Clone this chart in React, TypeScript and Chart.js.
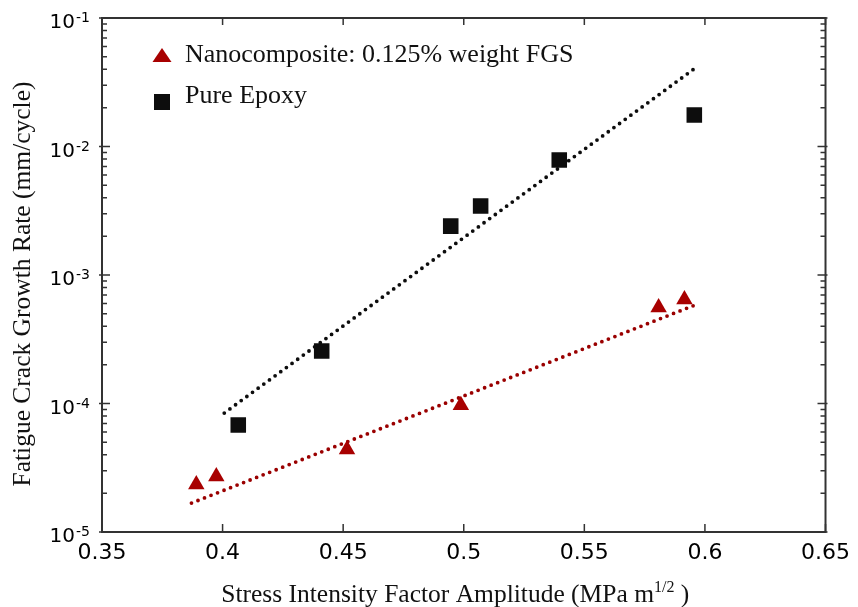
import React, { useEffect, useRef } from 'react';
import { Chart, registerables } from 'chart.js';

Chart.register(...registerables);

// ---- data ----
const nanoX = [0.3891, 0.3974, 0.4516, 0.4988, 0.5808, 0.5915];
const nanoY = [2.34e-5, 2.7e-5, 4.39e-5, 9.7e-5, 5.58e-4, 6.44e-4];

const epoxyX = [0.4065, 0.4411, 0.4946, 0.507, 0.5396, 0.5956];
const epoxyY = [6.8e-5, 2.56e-4, 2.4e-3, 3.44e-3, 7.85e-3, 1.76e-2];

const nanoFitX = [0.3871, 0.596];
const nanoFitY = [1.68e-5, 5.85e-4];

const epoxyFitX = [0.4007, 0.596];
const epoxyFitY = [8.43e-5, 4.08e-2];

const xTicks = [0.35, 0.4, 0.45, 0.5, 0.55, 0.6, 0.65];
const xTickLabels = ['0.35', '0.4', '0.45', '0.5', '0.55', '0.6', '0.65'];
const yTicks = [1e-5, 1e-4, 1e-3, 1e-2, 1e-1];
const yTickExponents = ['-5', '-4', '-3', '-2', '-1'];
const yMinorMultipliers = [2, 3, 4, 5, 6, 7, 8, 9];

const legendLabels = ['Nanocomposite: 0.125% weight FGS', 'Pure Epoxy'];
const xTitleMain = 'Stress Intensity Factor Amplitude (MPa m';
const xTitleSup = '1/2';
const xTitleEnd = ' )';
const yTitle = 'Fatigue Crack Growth Rate (mm/cycle)';

const RED = '#a80000';
const RED_LINE = '#9a0000';
const BLACK = '#0d0d0d';
const SERIF = '"Liberation Serif", "Times New Roman", serif';
const SANS = '"DejaVu Sans", sans-serif';

const toPoints = (xs: number[], ys: number[]) => xs.map((x, i) => ({ x, y: ys[i] }));

const decorPlugin = {
  id: 'decor',
  afterDraw(chart: any) {
    const { ctx, chartArea: ca } = chart;
    const xs = chart.scales.x;
    const ys = chart.scales.y;
    ctx.save();

    // frame
    ctx.strokeStyle = '#333';
    ctx.lineWidth = 2;
    ctx.strokeRect(ca.left, ca.top, ca.right - ca.left, ca.bottom - ca.top);

    // x ticks (inward, bottom and top)
    ctx.lineWidth = 1.5;
    ctx.beginPath();
    xTicks.forEach((v) => {
      const px = xs.getPixelForValue(v);
      ctx.moveTo(px, ca.bottom);
      ctx.lineTo(px, ca.bottom - 8);
      ctx.moveTo(px, ca.top);
      ctx.lineTo(px, ca.top + 7);
    });
    // y major ticks
    yTicks.forEach((v) => {
      const py = ys.getPixelForValue(v);
      ctx.moveTo(ca.left - 3, py);
      ctx.lineTo(ca.left + 8, py);
      ctx.moveTo(ca.right + 2, py);
      ctx.lineTo(ca.right - 8, py);
    });
    // y minor ticks
    yTicks.slice(0, -1).forEach((v) => {
      yMinorMultipliers.forEach((m) => {
        const py = ys.getPixelForValue(v * m);
        ctx.moveTo(ca.left, py);
        ctx.lineTo(ca.left + 5, py);
        ctx.moveTo(ca.right, py);
        ctx.lineTo(ca.right - 5, py);
      });
    });
    ctx.stroke();

    // y tick labels 10^n
    ctx.fillStyle = '#000';
    yTicks.forEach((v, i) => {
      const py = ys.getPixelForValue(v);
      ctx.font = `20px ${SANS}`;
      ctx.textAlign = 'right';
      ctx.textBaseline = 'alphabetic';
      ctx.fillText('10', ca.left - 27, py + 10);
      ctx.font = `14px ${SANS}`;
      ctx.textAlign = 'left';
      ctx.fillText(yTickExponents[i], ca.left - 26, py + 4);
    });

    // legend
    const lx = ca.left + 60;
    const ly1 = ca.top + 37;
    const ly2 = ca.top + 84;
    ctx.fillStyle = RED;
    ctx.beginPath();
    ctx.moveTo(lx - 9.5, ly1 + 7);
    ctx.lineTo(lx + 9.5, ly1 + 7);
    ctx.lineTo(lx, ly1 - 7);
    ctx.closePath();
    ctx.fill();
    ctx.fillStyle = BLACK;
    ctx.fillRect(lx - 8, ly2 - 8, 16, 16);
    ctx.fillStyle = '#111';
    ctx.font = `26px ${SERIF}`;
    ctx.textAlign = 'left';
    ctx.textBaseline = 'alphabetic';
    ctx.fillText(legendLabels[0], lx + 23, ly1 + 7);
    ctx.fillText(legendLabels[1], lx + 23, ly2 + 1);

    // x title with superscript
    ctx.font = `25.5px ${SERIF}`;
    const w1 = ctx.measureText(xTitleMain).width;
    const w3 = ctx.measureText(xTitleEnd).width;
    ctx.font = `16px ${SERIF}`;
    const w2 = ctx.measureText(xTitleSup).width;
    const total = w1 + w2 + w3;
    const cx = (ca.left + ca.right) / 2 - 8.5;
    let tx = cx - total / 2;
    const tb = ca.bottom + 70;
    ctx.font = `25.5px ${SERIF}`;
    ctx.fillText(xTitleMain, tx, tb);
    tx += w1;
    ctx.font = `16px ${SERIF}`;
    ctx.fillText(xTitleSup, tx, tb - 10);
    tx += w2;
    ctx.font = `25.5px ${SERIF}`;
    ctx.fillText(xTitleEnd, tx, tb);

    // y title
    ctx.save();
    ctx.translate(30, (ca.top + ca.bottom) / 2 + 9);
    ctx.rotate(-Math.PI / 2);
    ctx.textAlign = 'center';
    ctx.font = `25.5px ${SERIF}`;
    ctx.fillText(yTitle, 0, 0);
    ctx.restore();

    ctx.restore();
  },
};

export default function App() {
  const canvasRef = useRef<HTMLCanvasElement | null>(null);

  useEffect(() => {
    document.body.style.margin = '0';
    const canvas = canvasRef.current;
    if (!canvas) return;
    const chart = new Chart(canvas, {
      type: 'scatter',
      data: {
        datasets: [
          {
            label: legendLabels[0],
            data: toPoints(nanoX, nanoY),
            pointStyle: 'triangle',
            pointRadius: 9.5,
            backgroundColor: RED,
            borderColor: RED,
            borderWidth: 0,
            showLine: false,
          },
          {
            label: legendLabels[1],
            data: toPoints(epoxyX, epoxyY),
            pointStyle: 'rect',
            pointRadius: 11,
            backgroundColor: BLACK,
            borderColor: BLACK,
            borderWidth: 0,
            showLine: false,
          },
          {
            label: 'nano fit',
            data: toPoints(nanoFitX, nanoFitY),
            showLine: true,
            pointRadius: 0,
            borderColor: RED_LINE,
            borderWidth: 3.8,
            borderDash: [0, 7],
            borderCapStyle: 'round',
            fill: false,
          },
          {
            label: 'epoxy fit',
            data: toPoints(epoxyFitX, epoxyFitY),
            showLine: true,
            pointRadius: 0,
            borderColor: BLACK,
            borderWidth: 3.8,
            borderDash: [0, 7],
            borderCapStyle: 'round',
            fill: false,
          },
        ],
      },
      options: {
        animation: false,
        responsive: false,
        devicePixelRatio: 1,
        layout: { padding: { top: 18, right: 28, left: 0, bottom: 0 } },
        plugins: {
          legend: { display: false },
          tooltip: { enabled: false },
        },
        scales: {
          x: {
            type: 'linear',
            min: 0.35,
            max: 0.65,
            grid: { display: false, drawTicks: false },
            border: { display: false },
            ticks: {
              font: { family: 'DejaVu Sans', size: 22 },
              color: '#000',
              padding: 8,
              callback: (_v: any, i: number) => xTickLabels[i],
            },
            afterBuildTicks: (s: any) => {
              s.ticks = xTicks.map((v) => ({ value: v }));
            },
            afterFit: (s: any) => {
              s.height = 75;
            },
          },
          y: {
            type: 'logarithmic',
            min: 1e-5,
            max: 1e-1,
            grid: { display: false, drawTicks: false },
            border: { display: false },
            ticks: { display: false },
            afterBuildTicks: (s: any) => {
              s.ticks = yTicks.map((v) => ({ value: v }));
            },
            afterFit: (s: any) => {
              s.width = 102;
            },
          },
        },
      },
      plugins: [decorPlugin],
    });
    return () => chart.destroy();
  }, []);

  return (
    <div style={{ width: 858, height: 607, background: '#fff' }}>
      <canvas ref={canvasRef} width={858} height={607} />
    </div>
  );
}
